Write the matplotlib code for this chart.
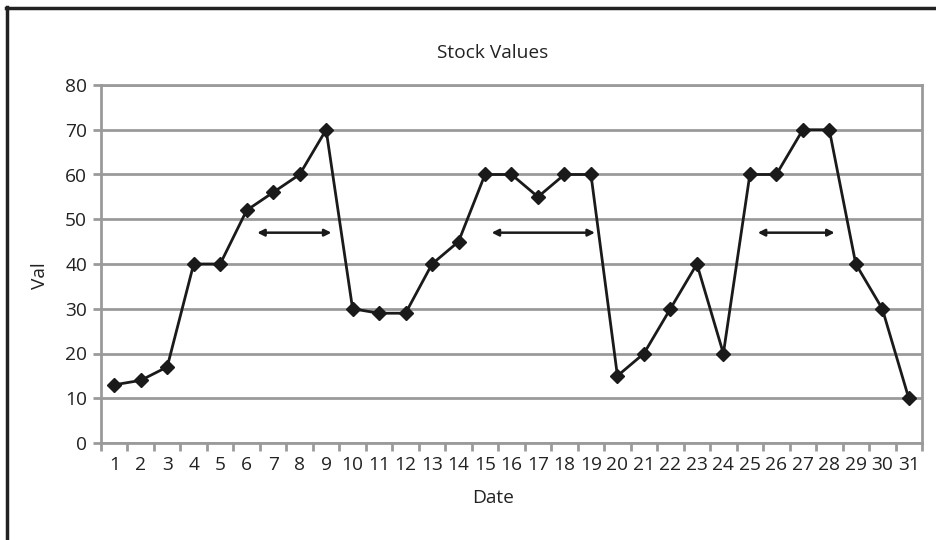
import matplotlib
matplotlib.use("Agg")
import matplotlib.pyplot as plt
from matplotlib.lines import Line2D
from matplotlib.ticker import FixedLocator, NullFormatter

plt.rcParams['font.family'] = ['Open Sans', 'DejaVu Sans']

# Daily closing values
dates = list(range(1, 32))
values = [13, 14, 17, 40, 40, 52, 56, 60, 70, 30, 29, 29, 40, 45, 60,
          60, 55, 60, 60, 15, 20, 30, 40, 20, 60, 60, 70, 70, 40, 30, 10]

# Horizontal span markers (start date, end date, level)
spans = [(6.4, 9.2, 47), (15.25, 19.15, 47), (25.3, 28.2, 47)]

title = "Stock Values"
xlabel = "Date"
ylabel = "Val"
yticks = [0, 10, 20, 30, 40, 50, 60, 70, 80]

W, H = 937, 540
fig = plt.figure(figsize=(W / 100, H / 100), dpi=100)
ax = fig.add_axes([101 / W, 1 - 443 / H, (922 - 101) / W, (443 - 85) / H])

text_col = '#222222'
grid_col = '#9a9a9a'
ax.set_xlim(0.5, 31.5)
ax.set_ylim(0, 80)

ax.set_yticks(yticks)
ax.yaxis.grid(True, color=grid_col, linewidth=2)
ax.set_axisbelow(True)

# Category ticks sit between dates, labels centred on each date
ax.xaxis.set_major_locator(FixedLocator([i + 0.5 for i in range(0, 32)]))
ax.xaxis.set_major_formatter(NullFormatter())
ax.xaxis.set_minor_locator(FixedLocator(dates))
ax.set_xticklabels([str(d) for d in dates], minor=True)
ax.tick_params(axis='x', which='major', length=6, width=2, color=grid_col, direction='out')
ax.tick_params(axis='x', which='minor', length=0, pad=9, labelsize=13.8, labelcolor=text_col)
ax.tick_params(axis='y', length=6, width=2, color=grid_col, labelsize=13.8,
               labelcolor=text_col, pad=4)

for side in ['left', 'bottom', 'right', 'top']:
    ax.spines[side].set_color(grid_col)
    ax.spines[side].set_linewidth(2)

ax.plot(dates, values, color='#1a1a1a', linewidth=2, marker='D', markersize=7,
        markerfacecolor='#1a1a1a', markeredgecolor='#1a1a1a', clip_on=False, zorder=3)

for x0, x1, lvl in spans:
    ax.annotate('', xy=(x1, lvl), xytext=(x0, lvl),
                arrowprops=dict(arrowstyle='<|-|>', color='#1a1a1a', lw=1.8,
                                mutation_scale=10, shrinkA=0, shrinkB=0))

# Chart-level titles, centred on the chart area
fig.text(493 / W, 1 - 53 / H, title, fontsize=13.8, color=text_col,
         ha='center', va='center')
fig.text(493 / W, 1 - 498 / H, xlabel, fontsize=13.8, color=text_col,
         ha='center', va='center')
fig.text(40 / W, 1 - 276 / H, ylabel, fontsize=13.8, color=text_col,
         ha='center', va='center', rotation=90)

# Outer frame along the left and top edges
fig.add_artist(Line2D([7.5 / W, 7.5 / W], [0, 1 - 7 / H], transform=fig.transFigure,
                      color=text_col, linewidth=2.5))
fig.add_artist(Line2D([6.3 / W, 1], [1 - 8 / H, 1 - 8 / H], transform=fig.transFigure,
                      color=text_col, linewidth=2.5))

fig.savefig('out.png', dpi=100)
